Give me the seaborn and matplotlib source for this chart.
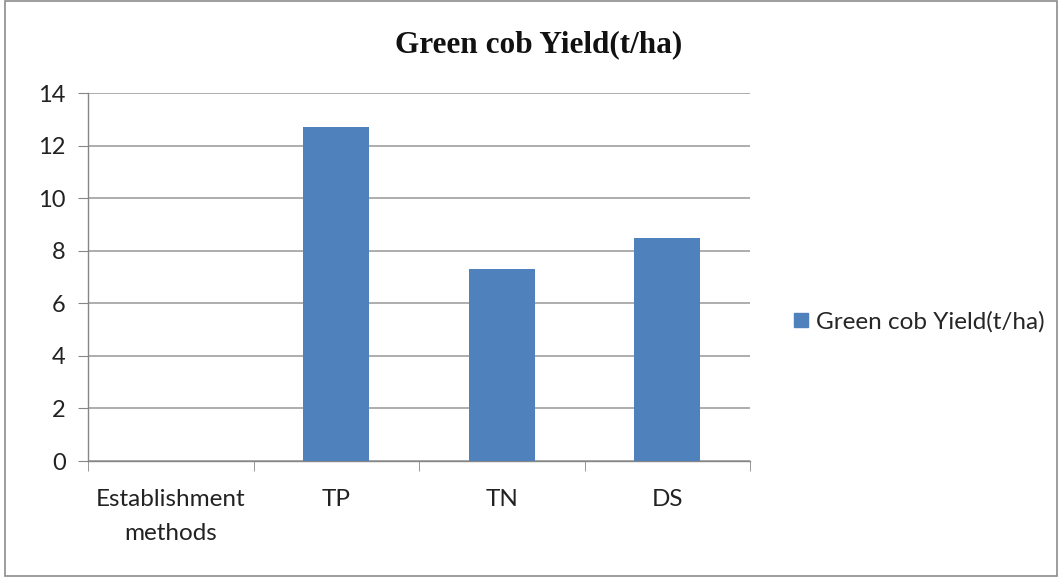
import matplotlib
matplotlib.use("Agg")
import matplotlib.pyplot as plt
import matplotlib.patches as mpatches
import seaborn as sns
import pandas as pd

# chart data
categories = ["Establishment\nmethods", "TP", "TN", "DS"]
yields = [0, 12.7, 7.3, 8.5]
series_name = "Green cob Yield(t/ha)"
y_ticks = [0, 2, 4, 6, 8, 10, 12, 14]

df = pd.DataFrame({"method": categories, "yield": yields})

sns.set_style("white")
plt.rcParams["font.family"] = ["Lato", "DejaVu Sans"]

fig = plt.figure(figsize=(10.64, 5.77), dpi=100)
ax = fig.add_axes([88 / 1064, 116 / 577, 662 / 1064, 368 / 577])

sns.barplot(data=df, x="method", y="yield", order=categories, color="#4F81BD",
            saturation=1, width=0.4, linewidth=0, ax=ax, zorder=3)

ax.set_xlim(-0.5, 3.5)
ax.set_ylim(0, 14)
ax.set_yticks(y_ticks)
ax.yaxis.grid(True, color="#a0a0a0", linewidth=1.2, zorder=0)
ax.set_axisbelow(True)
ax.set_xlabel("")
ax.set_ylabel("")

for s in ["top", "right"]:
    ax.spines[s].set_visible(False)
for s in ["left", "bottom"]:
    ax.spines[s].set_color("#868686")
    ax.spines[s].set_linewidth(1.0)

ax.tick_params(axis="y", which="major", length=7, color="#868686", labelsize=17,
               labelcolor="#222222", pad=9, left=True)
ax.tick_params(axis="x", which="major", length=0, labelsize=17.5, labelcolor="#222222", pad=20)
for lbl in ax.get_xticklabels():
    lbl.set_linespacing(1.75)
ax.set_xticks([-0.5, 0.5, 1.5, 2.5, 3.5], minor=True)
ax.tick_params(axis="x", which="minor", length=7, color="#868686", bottom=True)

fig.text(539 / 1064, 1 - 45 / 577, series_name, ha="center", va="center", fontsize=22.5,
         fontweight="bold", family=["Liberation Serif", "DejaVu Serif"], color="#111111")

handle = mpatches.Patch(color="#4F81BD", label=series_name)
fig.legend(handles=[handle], loc="center left", bbox_to_anchor=(0.735, 0.442),
           frameon=False, fontsize=17.5, handlelength=0.55, handleheight=0.55,
           handletextpad=0.35, borderpad=0)

fig.patches.append(mpatches.Rectangle((5 / 1064, 0.002), 1052 / 1064, 0.996,
                                      transform=fig.transFigure, fill=False,
                                      edgecolor="#8c8c8c", linewidth=1.2))

fig.savefig("out.png", dpi=100)
